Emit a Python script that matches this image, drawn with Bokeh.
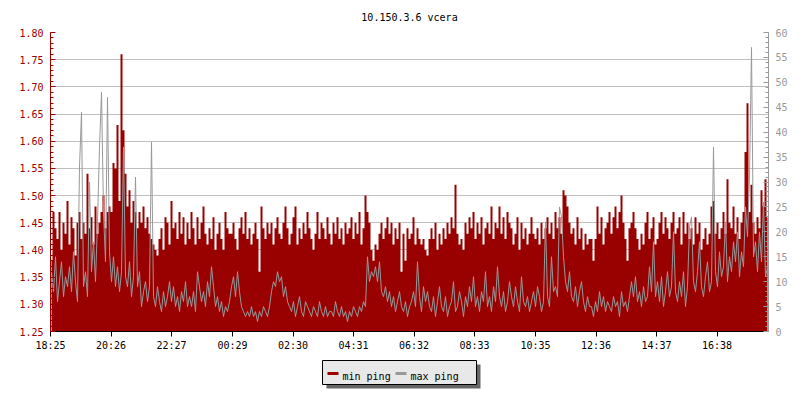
import numpy as np
from bokeh.plotting import figure
from bokeh.layouts import column
from bokeh.models import Range1d, LinearAxis, FixedTicker, PrintfTickFormatter
from bokeh.core.properties import value
from bokeh.embed import file_html
from bokeh.resources import INLINE

# ---------------- data ----------------
title_text = "10.150.3.6 vcera"
series_names = ["min ping", "max ping"]

# minutes after the first sample (18:25) at which the time labels sit
tick_minutes = [0, 121, 242, 364, 485, 606, 727, 848, 970, 1091, 1212, 1333]
tick_labels = ["18:25", "20:26", "22:27", "00:29", "02:30", "04:31",
               "06:32", "08:33", "10:35", "12:36", "14:37", "16:38"]
sample_step_min = 4

# min ping (left axis)
min_ping = [
    1.38, 1.47, 1.44, 1.42, 1.47, 1.40, 1.45, 1.43, 1.49, 1.41,
    1.46, 1.44, 1.39, 1.45, 1.47, 1.42, 1.45, 1.43, 1.54, 1.44,
    1.46, 1.41, 1.48, 1.43, 1.45, 1.47, 1.50, 1.44, 1.47, 1.48,
    1.47, 1.56, 1.55, 1.63, 1.49, 1.76, 1.62, 1.54, 1.48, 1.51,
    1.45, 1.49, 1.47, 1.44, 1.47, 1.45, 1.48, 1.44, 1.46, 1.43,
    1.42, 1.41, 1.40, 1.39, 1.42, 1.44, 1.40, 1.46, 1.45, 1.41,
    1.49, 1.44, 1.45, 1.42, 1.47, 1.43, 1.46, 1.41, 1.45, 1.42,
    1.47, 1.44, 1.41, 1.46, 1.42, 1.45, 1.48, 1.43, 1.41, 1.44,
    1.42, 1.46, 1.40, 1.43, 1.45, 1.42, 1.40, 1.47, 1.44, 1.43,
    1.43, 1.45, 1.42, 1.40, 1.44, 1.46, 1.43, 1.47, 1.42, 1.44,
    1.41, 1.43, 1.45, 1.42, 1.36, 1.48, 1.44, 1.42, 1.45, 1.43,
    1.45, 1.41, 1.44, 1.46, 1.43, 1.42, 1.45, 1.48, 1.44, 1.41,
    1.43, 1.46, 1.48, 1.41, 1.44, 1.42, 1.45, 1.43, 1.47, 1.44,
    1.42, 1.40, 1.43, 1.47, 1.42, 1.45, 1.44, 1.42, 1.46, 1.43,
    1.41, 1.45, 1.43, 1.46, 1.42, 1.44, 1.41, 1.45, 1.43, 1.44,
    1.46, 1.42, 1.45, 1.43, 1.47, 1.41, 1.44, 1.50, 1.47, 1.45,
    1.40, 1.38, 1.41, 1.40, 1.43, 1.45, 1.42, 1.44, 1.46, 1.43,
    1.45, 1.41, 1.44, 1.42, 1.45, 1.36, 1.43, 1.38, 1.44, 1.42,
    1.43, 1.46, 1.41, 1.44, 1.42, 1.41, 1.42, 1.40, 1.39, 1.42,
    1.44, 1.42, 1.45, 1.40, 1.43, 1.41, 1.44, 1.42, 1.45, 1.43,
    1.46, 1.44, 1.52, 1.43, 1.41, 1.42, 1.40, 1.45, 1.43, 1.46,
    1.44, 1.47, 1.42, 1.45, 1.43, 1.46, 1.41, 1.44, 1.45, 1.43,
    1.48, 1.42, 1.45, 1.44, 1.48, 1.43, 1.46, 1.42, 1.47, 1.45,
    1.44, 1.41, 1.43, 1.46, 1.40, 1.45, 1.42, 1.44, 1.41, 1.43,
    1.46, 1.43, 1.42, 1.44, 1.41, 1.45, 1.42, 1.44, 1.46, 1.43,
    1.45, 1.42, 1.47, 1.44, 1.46, 1.43, 1.51, 1.50, 1.48, 1.45,
    1.43, 1.44, 1.41, 1.46, 1.42, 1.44, 1.40, 1.43, 1.41, 1.42,
    1.42, 1.38, 1.42, 1.48, 1.43, 1.46, 1.41, 1.44, 1.45, 1.47,
    1.43, 1.46, 1.48, 1.44, 1.47, 1.50, 1.45, 1.42, 1.38, 1.44,
    1.45, 1.47, 1.44, 1.42, 1.40, 1.43, 1.41, 1.45, 1.47, 1.42,
    1.44, 1.46, 1.41, 1.42, 1.45, 1.47, 1.43, 1.46, 1.44, 1.42,
    1.45, 1.47, 1.43, 1.44, 1.46, 1.41, 1.47, 1.43, 1.45, 1.42,
    1.44, 1.41, 1.46, 1.43, 1.45, 1.40, 1.42, 1.44, 1.41, 1.43,
    1.48, 1.49, 1.43, 1.45, 1.42, 1.44, 1.47, 1.43, 1.53, 1.45,
    1.44, 1.48, 1.43, 1.46, 1.42, 1.45, 1.47, 1.58, 1.67, 1.47,
    1.52, 1.45, 1.43, 1.46, 1.44, 1.51, 1.48, 1.53, 1.46,
]

# max ping (right axis, ms)
max_ping = [
    12, 8, 15, 6, 10, 14, 7, 11, 9, 13,
    8, 16, 10, 6, 33, 44, 9, 12, 7, 30,
    12, 18, 10, 22, 37, 48, 24, 14, 47, 16,
    10, 15, 9, 13, 8, 12, 37, 11, 9, 14,
    7, 11, 31, 9, 12, 5, 8, 10, 6, 9,
    38, 7, 5, 9, 6, 4, 8, 5, 7, 10,
    6, 9, 5, 7, 4, 8, 6, 10, 5, 7,
    5, 8, 4, 12, 9, 6, 8, 5, 10, 7,
    13, 9, 5, 7, 4, 6, 3, 5, 4, 6,
    9, 11, 7, 12, 8, 5, 4, 3, 4, 3,
    5, 3, 4, 2, 4, 3, 5, 4, 3, 5,
    8, 10, 9, 12, 10, 11, 7, 9, 6, 5,
    4, 6, 3, 5, 7, 4, 3, 6, 5, 4,
    3, 5, 4, 3, 6, 4, 3, 5, 3, 4,
    4, 3, 6, 4, 3, 5, 3, 4, 2, 4,
    3, 5, 4, 3, 5, 4, 6, 5, 15, 10,
    12, 11, 13, 10, 14, 8, 7, 9, 6, 8,
    5, 7, 4, 6, 8, 5, 4, 6, 3, 5,
    6, 8, 5, 14, 7, 4, 9, 6, 8, 5,
    4, 7, 3, 6, 9, 5, 4, 7, 3, 5,
    6, 10, 4, 5, 8, 6, 3, 7, 5, 9,
    6, 11, 5, 7, 4, 8, 6, 12, 5, 7,
    4, 9, 6, 13, 7, 5, 8, 4, 6, 10,
    7, 5, 9, 6, 4, 11, 6, 5, 7, 4,
    6, 8, 5, 9, 7, 4, 6, 22, 7, 5,
    15, 8, 9, 7, 25, 23, 15, 10, 8, 12,
    7, 6, 9, 5, 8, 10, 6, 4, 7, 5,
    5, 3, 6, 4, 8, 5, 7, 4, 6, 5,
    4, 7, 5, 6, 3, 8, 5, 6, 4, 7,
    10, 7, 11, 6, 8, 5, 9, 6, 7, 13,
    8, 18, 7, 10, 6, 11, 5, 8, 12, 7,
    9, 20, 8, 6, 10, 7, 12, 5, 9, 21,
    23, 10, 8, 12, 18, 9, 7, 11, 14, 8,
    10, 37, 12, 9, 16, 11, 13, 22, 10, 15,
    12, 18, 14, 20, 11, 16, 13, 25, 19, 31,
    57, 15, 18, 12, 20, 14, 26, 11, 13,
]

# ---------------- styling ----------------
FONT = "DejaVu Sans Mono"
RED = "#990000"
GRAY = "#999999"
SHADOW = "#666666"
LEGEND_BG = "#e8e8e8"
BORDER_L, BORDER_R, FRAME_W = 50, 32, 718

n = len(min_ping)
t = np.arange(n) * sample_step_min + sample_step_min / 2
base = np.full(n, 1.25)

p = figure(frame_width=FRAME_W, frame_height=299, output_backend="svg",
           toolbar_location=None,
           x_range=Range1d(0, n * sample_step_min), y_range=Range1d(1.25, 1.80),
           min_border_left=BORDER_L, min_border_right=BORDER_R, min_border_top=31,
           min_border_bottom=22)
p.outline_line_color = None
p.background_fill_color = "white"
p.border_fill_color = "white"

p.title.text = title_text
p.title.align = "center"
p.title.text_font = FONT
p.title.text_font_size = "10px"
p.title.text_font_style = "normal"
p.title.text_color = "black"
p.title.standoff = 19

p.extra_y_ranges = {"ms": Range1d(0, 60)}

# min ping: filled steps
p.varea_step(x=t, y1=base, y2=min_ping, step_mode="center", fill_color=RED)
# max ping: line on the right axis
p.line(x=t, y=max_ping, y_range_name="ms", line_color=GRAY, line_width=1)

# left axis
ya = p.yaxis[0]
ya.ticker = FixedTicker(ticks=list(np.round(np.arange(1.25, 1.8001, 0.05), 2)),
                        minor_ticks=list(np.round(np.arange(1.25, 1.8001, 0.01), 2)))
ya.formatter = PrintfTickFormatter(format="%.2f")
ya.axis_line_color = RED
ya.major_tick_line_color = RED
ya.minor_tick_line_color = RED
ya.major_tick_in = 5
ya.major_tick_out = 0
ya.minor_tick_in = 3
ya.minor_tick_out = 0
ya.major_label_text_color = RED
ya.major_label_text_font = FONT
ya.major_label_text_font_size = "10px"
ya.major_label_standoff = 7

# right axis
ra = LinearAxis(y_range_name="ms",
                ticker=FixedTicker(ticks=list(range(0, 61, 5)),
                                   minor_ticks=list(range(0, 61, 1))))
ra.axis_line_color = GRAY
ra.major_tick_line_color = GRAY
ra.minor_tick_line_color = GRAY
ra.major_tick_in = 5
ra.major_tick_out = 0
ra.minor_tick_in = 3
ra.minor_tick_out = 0
ra.major_label_text_color = GRAY
ra.major_label_text_font = FONT
ra.major_label_text_font_size = "10px"
ra.major_label_standoff = 7
p.add_layout(ra, "right")

# bottom axis
xa = p.xaxis[0]
xa.ticker = FixedTicker(ticks=tick_minutes)
xa.major_label_overrides = {m: s for m, s in zip(tick_minutes, tick_labels)}
xa.minor_tick_line_color = None
xa.axis_line_color = "black"
xa.major_tick_line_color = "black"
xa.major_tick_in = 0
xa.major_tick_out = 5
xa.major_label_text_font = FONT
xa.major_label_text_font_size = "10px"
xa.major_label_text_color = "black"
xa.major_label_standoff = 3

# grid
p.xgrid.visible = False
p.ygrid.grid_line_color = "#c0c0c0"
p.ygrid.grid_line_width = 1

# ---------------- legend strip (drawn in its own pixel-scaled panel) ----------------
# its frame is aligned with the main frame; x units = page pixels
LH = 48
lf = figure(frame_width=FRAME_W, height=LH, output_backend="svg",
            toolbar_location=None,
            x_range=Range1d(BORDER_L, BORDER_L + FRAME_W), y_range=Range1d(LH, 0),
            min_border_left=BORDER_L, min_border_right=BORDER_R,
            min_border_top=0, min_border_bottom=0,
            x_axis_type=None, y_axis_type=None)
lf.outline_line_color = None
lf.grid.visible = False
lf.background_fill_color = "white"
lf.border_fill_color = "white"

box_l, box_t, box_w, box_h, sh = 322, 7, 154, 24, 4
mid = box_t + box_h / 2
# shadow + box
lf.quad(left=[box_l + sh], right=[box_l + box_w + sh], top=[box_t + sh],
        bottom=[box_t + box_h + sh], fill_color=SHADOW, line_color=None)
lf.quad(left=[box_l], right=[box_l + box_w], top=[box_t], bottom=[box_t + box_h],
        fill_color=LEGEND_BG, line_color="black", line_width=1)
# swatches
sw_x = [box_l + 5, box_l + 73]
for sx, col in zip(sw_x, [RED, GRAY]):
    lf.segment(x0=[sx], y0=[mid + 1], x1=[sx + 11], y1=[mid + 1],
               line_color=col, line_width=3)
lf.text(x=[sx + 15 for sx in sw_x], y=[mid + 4] * 2, text=series_names,
        text_font=value(FONT), text_font_size="10px", text_color="black",
        text_baseline="alphabetic", text_align="left")

open("out.html", "w").write(file_html(column(p, lf, spacing=0), INLINE))
